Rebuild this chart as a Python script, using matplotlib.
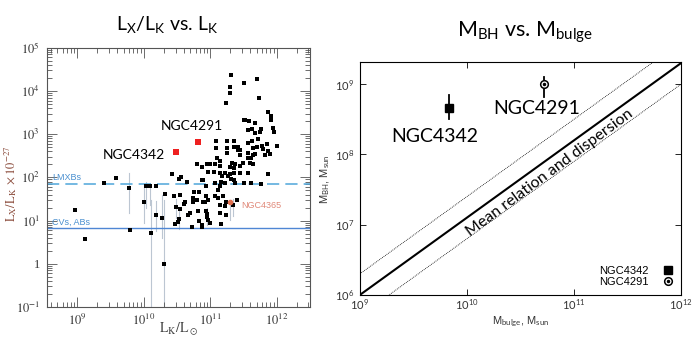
import numpy as np
import matplotlib
matplotlib.use("Agg")
import matplotlib.pyplot as plt
from matplotlib.ticker import LogLocator, NullFormatter, NullLocator

plt.rcParams['mathtext.fontset'] = 'custom'
plt.rcParams['mathtext.rm'] = 'Lato'
plt.rcParams['mathtext.it'] = 'Lato:italic'
plt.rcParams['mathtext.bf'] = 'Lato:bold'

# ---------------- Left panel data (log10 values) ----------------
lk_log = [8.97, 9.12, 9.40, 9.58, 9.78, 9.79, 10.01, 10.03, 10.09, 10.11, 10.19, 10.19, 10.27, 10.31, 10.32,
          10.43, 10.45, 10.47, 10.49, 10.51, 10.53, 10.56, 10.54, 10.55, 10.53, 10.60, 10.62, 10.67, 10.65,
          10.69, 10.72, 10.74, 10.74, 10.76, 10.80, 10.82, 10.83, 10.83, 10.87, 10.87, 10.89, 10.89, 10.93,
          10.93, 10.95, 10.95, 10.97, 11.00, 10.88, 10.97, 11.07,
          10.92, 11.12, 11.19, 11.14, 11.22, 11.34, 11.24, 11.40, 11.16, 11.14, 10.94, 11.22, 11.30, 11.26,
          11.31, 11.35, 11.45, 11.57, 11.87, 11.17, 11.16, 11.22, 11.37, 11.50, 11.61, 11.76, 10.95, 11.00,
          11.07, 11.15, 11.32, 11.37, 11.45, 11.36, 11.49, 11.56, 11.61, 11.59, 11.65, 11.65, 11.67, 11.82,
          11.90, 11.45, 11.08, 11.09, 11.25, 11.25, 11.35, 11.41, 11.41, 11.57, 11.63, 11.64, 11.78, 11.79,
          11.87, 11.85, 12.01, 11.72,
          11.31, 11.30, 11.30, 11.24, 11.50, 11.70, 11.73, 11.87, 11.91, 11.91, 11.94, 11.96, 11.50, 11.52,
          11.58, 11.67, 11.63, 11.77,
          11.10, 11.15, 11.25, 11.30, 11.35, 11.07, 11.05, 10.97, 10.87, 10.80, 11.14, 11.24, 11.12, 11.15,
          11.70, 11.75, 11.67, 11.57, 11.35, 11.45, 11.57]
lxlk_log = [1.25, 0.58, 1.87, 1.98, 1.75, 0.79, 1.43, 1.81, 1.80, 0.71, 1.79, 1.13, 1.07, 0.0, 1.62,
            2.07, 1.56, 0.91, 1.31, 0.96, 1.96, 2.00, 1.60, 1.27, 1.04, 1.38, 1.44, 1.13, 1.89,
            1.17, 0.84, 1.53, 1.44, 1.65, 1.48, 1.21, 1.65, 1.00, 0.90, 1.94, 1.94, 1.42, 1.56,
            1.23, 1.16, 1.09, 1.02, 0.94, 0.85, 1.48, 1.56,
            1.44, 1.52, 1.56, 1.36, 1.33, 1.36, 1.13, 1.48, 0.92, 2.10, 1.80, 2.10, 2.07, 2.02,
            1.96, 1.94, 2.10, 2.10, 2.08, 2.02, 1.90, 1.88, 1.87, 1.87, 1.88, 1.84, 2.31, 2.31,
            2.31, 2.27, 2.33, 2.31, 2.27, 2.21, 2.33, 2.44, 2.44, 2.33, 2.31, 2.52, 2.54, 2.52,
            2.54, 2.64, 2.83, 2.69, 2.83, 2.69, 2.84, 2.70, 2.64, 2.80, 2.83, 2.68, 2.73, 2.65,
            2.60, 2.77, 2.73, 2.89,
            4.37, 4.08, 3.95, 3.71, 4.18, 4.28, 3.84, 3.52, 3.41, 3.33, 3.14, 3.06, 3.33, 3.33,
            3.31, 3.25, 3.11, 3.11,
            2.44, 2.38, 2.56, 2.25, 2.10, 1.87, 2.13, 2.13, 2.25, 2.30, 1.17, 1.44, 1.71, 1.79,
            2.71, 3.06, 3.02, 3.10, 2.71, 2.52, 2.56]

# error bars (log10)
eb_lk_log = [9.78, 10.01, 10.03, 10.09, 10.11, 10.19, 10.27, 10.31, 10.49, 10.53, 10.95, 11.30, 11.34]
eb_lo_log = [1.18, 0.95, 1.30, 1.35, -1.0, 0.75, 0.60, -1.0, 1.05, 0.80, 0.90, 1.02, 1.10]
eb_hi_log = [2.10, 1.85, 1.90, 1.88, 1.48, 1.45, 1.60, 1.48, 1.50, 1.30, 1.30, 1.45, 1.50]

ngc4365_log = (11.30, 1.44)
red_names = ["NGC4342", "NGC4291"]
red_lk_log = [10.48, 10.81]
red_lx_log = [2.58, 2.81]

lmxb_level = 72.0
cv_level = 6.8

left_xticks = [1e9, 1e10, 1e11, 1e12]
left_xticklabels = [r"$10^{9}$", r"$10^{10}$", r"$10^{11}$", r"$10^{12}$"]
left_yticks = [1e-1, 1, 1e1, 1e2, 1e3, 1e4, 1e5]
left_yticklabels = [r"$10^{-1}$", "1", r"$10^{1}$", r"$10^{2}$", r"$10^{3}$", r"$10^{4}$", r"$10^{5}$"]

# ---------------- Right panel data ----------------
gal_names = ["NGC4342", "NGC4291"]
mbulge = [6.8e9, 5.2e10]
mbh = [4.6e8, 1.0e9]
mbh_lo = [3.2e8, 6.6e8]
mbh_hi = [7.1e8, 1.26e9]
rel_mb = [1e9, 1e12]
rel_norm = 1e6      # M_BH at M_bulge = 1e9
rel_slope = 1.1
rel_scatter = 0.3   # dex

right_xticks = [1e9, 1e10, 1e11, 1e12]
right_xticklabels = [r"$10^{9}$", r"$10^{10}$", r"$10^{11}$", r"$10^{12}$"]
right_yticks = [1e6, 1e7, 1e8, 1e9]
right_yticklabels = [r"$10^{6}$", r"$10^{7}$", r"$10^{8}$", r"$10^{9}$"]

fig = plt.figure(figsize=(6.92, 3.47), dpi=100)

# ================= LEFT =================
axL = fig.add_axes([0.0675, 0.1153, 0.3805, 0.7472])
axL.set_xscale('log')
axL.set_yscale('log')
axL.set_xlim(10**8.54, 10**12.5)
axL.set_ylim(1e-1, 1e5)

for xl, lo, hi in zip(eb_lk_log, eb_lo_log, eb_hi_log):
    axL.plot([10**xl, 10**xl], [10**lo, 10**hi], color='#bcc6d2', lw=0.8, zorder=1)

axL.axhline(lmxb_level, color='#4ea6da', lw=1.1, ls=(0, (8, 4)), zorder=2)
axL.axhline(cv_level, color='#4f86d4', lw=1.0, zorder=2)
axL.text(10**8.62, lmxb_level * 1.08, "LMXBs", color='#4a90d0', fontsize=6.5,
         family='Liberation Sans', va='bottom')
axL.text(10**8.62, cv_level * 1.08, "CVs, ABs", color='#4a90d0', fontsize=6.5,
         family='Liberation Sans', va='bottom')

axL.plot(10**np.array(lk_log), 10**np.array(lxlk_log), ls='none', marker='s',
         ms=3.0, mfc='black', mec='black', mew=0, zorder=3)
axL.plot(10**ngc4365_log[0], 10**ngc4365_log[1], ls='none', marker='o', ms=3,
         color='#e07050', zorder=3)
axL.text(10**11.47, 10**1.36, "NGC4365", color='#e08878', fontsize=6.5,
         family='Liberation Sans', va='center')

axL.plot(10**np.array(red_lk_log), 10**np.array(red_lx_log), ls='none', marker='s',
         ms=5, mfc='#ee2020', mec='#ee2020', mew=0, zorder=4)
axL.text(10**10.32, 10**2.52, red_names[0], fontsize=10, family='Lato', ha='right', va='center')
axL.text(10**10.72, 10**3.18, red_names[1], fontsize=10, family='Lato', ha='center', va='center')

axL.set_xticks(left_xticks, labels=left_xticklabels, math_fontfamily='stix', fontsize=9, color='#333333')
axL.set_yticks(left_yticks, labels=left_yticklabels, math_fontfamily='stix', fontsize=9,
               family='Liberation Serif', color='#333333')
axL.xaxis.set_minor_locator(LogLocator(base=10, subs=np.arange(2, 10)))
axL.yaxis.set_minor_locator(LogLocator(base=10, subs=np.arange(2, 10)))
axL.xaxis.set_minor_formatter(NullFormatter())
axL.yaxis.set_minor_formatter(NullFormatter())
axL.tick_params(which='both', direction='in', top=True, right=True, color='#555555', width=0.6)
axL.tick_params(which='major', length=7)
axL.tick_params(axis='x', which='major', pad=4)
axL.tick_params(axis='y', which='major', pad=5)
axL.tick_params(which='minor', length=3.5)
for s in axL.spines.values():
    s.set_color('#555555')
    s.set_linewidth(0.8)

axL.set_xlabel(r"$\mathrm{L_K/L_\odot}$", math_fontfamily='stix', fontsize=10, color='#444444', va='center')
axL.xaxis.set_label_coords(0.5, -0.088)
axL.set_ylabel(r"$\mathrm{L_X/L_K}\ \times 10^{-27}$", math_fontfamily='stix', fontsize=9,
               color='#8a4a3a', va='center')
axL.yaxis.set_label_coords(-0.138, 0.475)

fig.text(0.241, 0.928, r"L$_\mathrm{X}$/L$_\mathrm{K}$ vs. L$_\mathrm{K}$", ha='center', va='center',
         fontsize=14, family='Lato')

# ================= RIGHT =================
axR = fig.add_axes([0.520, 0.150, 0.464, 0.670])
axR.set_xscale('log')
axR.set_yscale('log')
axR.set_xlim(1e9, 1e12)
axR.set_ylim(1e6, 10**9.31)

mb = np.array(rel_mb)
mean = rel_norm * (mb / 1e9) ** rel_slope
axR.plot(mb, mean, color='black', lw=1.5, zorder=2)
axR.plot(mb, mean * 10**rel_scatter, color='black', lw=0.6, ls=(0, (1, 1.2)), zorder=2)
axR.plot(mb, mean / 10**rel_scatter, color='black', lw=0.6, ls=(0, (1, 1.2)), zorder=2)

# error bars
for i in range(2):
    axR.plot([mbulge[i], mbulge[i]], [mbh_lo[i], mbh_hi[i]], color='black', lw=1.3, zorder=3)
h1, = axR.plot(mbulge[0], mbh[0], ls='none', marker='s', ms=6, color='black', zorder=4)
h2, = axR.plot(mbulge[1], mbh[1], ls='none', marker='o', ms=5.5, mfc='white', mec='black',
               mew=1.1, zorder=4)
axR.plot(mbulge[1], mbh[1], ls='none', marker='o', ms=1.5, color='black', zorder=5)
h2l, = axR.plot([], [], ls='none', marker='o', ms=5.5, mfc='white', mec='black', mew=1.1)
h2d, = axR.plot([], [], ls='none', marker='o', ms=1.5, color='black')

leg = axR.legend([h1, (h2l, h2d)], gal_names, loc='lower right', markerfirst=False, frameon=False,
                 prop={'family': 'Liberation Sans', 'size': 8}, handlelength=1.0,
                 handletextpad=1.2, labelspacing=0.15, borderaxespad=0.3)

axR.text(10**9.70, 10**8.25, gal_names[0], fontsize=14, family='Lato', ha='center', va='center')
axR.text(10**10.65, 10**8.65, gal_names[1], fontsize=14, family='Lato', ha='center', va='center')
axR.text(10**10.77, 10**7.74, "Mean relation and dispersion", fontsize=11.5, family='Lato',
         rotation=36.5, ha='center', va='center', rotation_mode='anchor')

axR.set_xticks(right_xticks, labels=right_xticklabels, fontsize=8, color='#333333')
axR.set_yticks(right_yticks, labels=right_yticklabels, fontsize=8, color='#333333')
axR.xaxis.set_minor_locator(NullLocator())
axR.yaxis.set_minor_locator(NullLocator())
axR.tick_params(which='major', direction='in', top=True, right=True, length=4, width=0.6)
axR.tick_params(axis='x', pad=1.5)
axR.tick_params(axis='y', pad=4)
for s in axR.spines.values():
    s.set_linewidth(0.8)
axR.set_xlabel(r"M$_\mathrm{bulge}$, M$_\mathrm{sun}$", fontsize=8, family='Liberation Sans',
               color='#333333', labelpad=2)
axR.set_ylabel(r"M$_\mathrm{BH}$, M$_\mathrm{sun}$", fontsize=8, family='Liberation Sans',
               color='#333333', labelpad=2)

fig.text(0.759, 0.908, r"M$_\mathrm{BH}$ vs. M$_\mathrm{bulge}$", ha='center', va='center',
         fontsize=15.5, family='Lato')

fig.savefig("out.png", dpi=100)
